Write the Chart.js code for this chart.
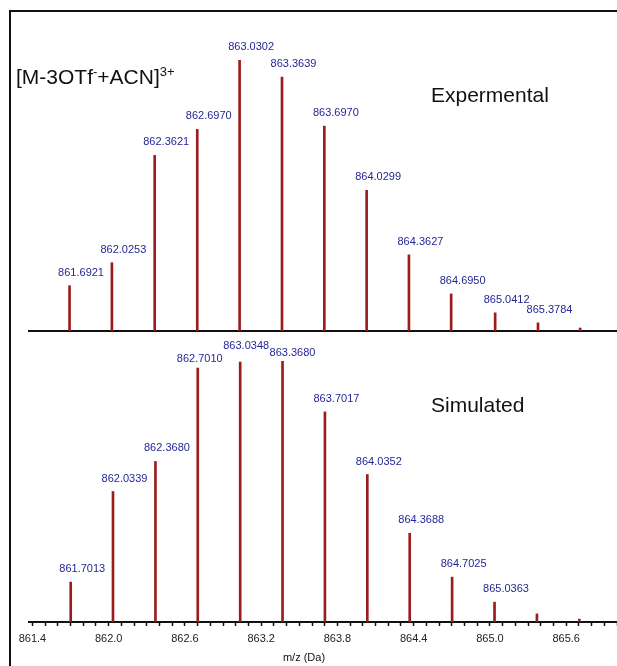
<!DOCTYPE html>
<html>
<head>
<meta charset="utf-8">
<script src="https://cdn.jsdelivr.net/npm/chart.js@4.4.0/dist/chart.umd.min.js"></script>
<style>
    html, body { margin: 0; padding: 0; background: #fff; }
    #wrap { position: relative; width: 617px; height: 666px; overflow: hidden; font-family: Arial, "Liberation Sans", sans-serif; }
    #frame { position: absolute; left: 9px; top: 10px; width: 700px; height: 700px; border-top: 2px solid #111; border-left: 2px solid #111; }
    #expCanvas { position: absolute; left: 0; top: 0; }
    #simCanvas { position: absolute; left: 0; top: 340px; }
    .note { position: absolute; color: #111; font-size: 21px; line-height: 21px; white-space: nowrap; }
    .note sup { font-size: 13px; vertical-align: 0; position: relative; top: -8px; }
    #xTitle { position: absolute; left: 264px; top: 652px; width: 80px; text-align: center; font-size: 11px; line-height: 11px; color: #111; }
</style>
</head>
<body>
<div id="wrap">
    <div id="frame"></div>
    <canvas id="expCanvas" width="617" height="345"></canvas>
    <!-- a bit wider than the page: the axis keeps tick padding on its right -->
    <canvas id="simCanvas" width="623" height="326"></canvas>
    <!-- panel annotations -->
    <div class="note" style="left:16px; top:66px;">[M-3OTf<sup>-</sup>+ACN]<sup>3+</sup></div>
    <div class="note" style="left:431px; top:84px;">Expermental</div>
    <div class="note" style="left:431px; top:394px;">Simulated</div>
    <div id="xTitle">m/z (Da)</div>
</div>
<script>
// experimental isotope pattern (m/z, relative intensity %)
const expMz = [861.6921, 862.0253, 862.3621, 862.6970, 863.0302, 863.3639, 863.6970, 864.0299, 864.3627, 864.6950, 865.0412, 865.3784, 865.7100];
const expInt = [16.7, 25.2, 64.8, 74.4, 100, 93.7, 75.6, 51.9, 28.1, 13.7, 6.7, 3.0, 1.1];
const expLabels = ['861.6921', '862.0253', '862.3621', '862.6970', '863.0302', '863.3639', '863.6970', '864.0299', '864.3627', '864.6950', '865.0412', '865.3784', ''];

// simulated isotope pattern
const simMz = [861.7013, 862.0339, 862.3680, 862.7010, 863.0348, 863.3680, 863.7017, 864.0352, 864.3688, 864.7025, 865.0363, 865.3700, 865.7040];
const simInt = [15.3, 50.0, 61.5, 97.3, 99.6, 100, 80.5, 56.5, 34.0, 17.2, 7.6, 3.1, 1.1];
const simLabels = ['861.7013', '862.0339', '862.3680', '862.7010', '863.0348', '863.3680', '863.7017', '864.0352', '864.3688', '864.7025', '865.0363', '', ''];

// x axis
const tickLabels = ['861.4', '862.0', '862.6', '863.2', '863.8', '864.4', '865.0', '865.6'];
const xMin = 861.373;
const xMax = 866.0;

const BAR_RED = '#9b1c1c';
const LABEL_BLUE = '#262696';

// draws the m/z value above each peak
const peakLabels = {
    id: 'peakLabels',
    afterDatasetsDraw(chart, args, opts) {
        const ctx = chart.ctx;
        const meta = chart.getDatasetMeta(0);
        const texts = opts.texts || [];
        const nudge = opts.nudge || {};
        ctx.save();
        ctx.font = '11px Arial, "Liberation Sans", sans-serif';
        ctx.fillStyle = LABEL_BLUE;
        ctx.textAlign = 'center';
        ctx.textBaseline = 'alphabetic';
        meta.data.forEach((bar, i) => {
            const txt = texts[i];
            if (!txt) return;
            const n = nudge[txt] || [0, 0];
            ctx.fillText(txt, bar.x + 11.5 + n[0], bar.y - 10 + n[1]);
        });
        ctx.restore();
    }
};

function toPoints(xs, ys) {
    return xs.map((x, i) => ({ x: x, y: ys[i] }));
}

function makeChart(id, xs, ys, texts, opts) {
    const ctx = document.getElementById(id).getContext('2d');
    return new Chart(ctx, {
        type: 'bar',
        data: {
            datasets: [{
                data: toPoints(xs, ys),
                backgroundColor: BAR_RED,
                borderWidth: 0,
                barThickness: 2
            }]
        },
        options: {
            responsive: false,
            animation: false,
            events: [],
            layout: { padding: opts.padding },
            scales: {
                x: {
                    type: 'linear',
                    min: xMin,
                    max: xMax,
                    offset: false,
                    border: { display: true, color: '#111', width: 2 },
                    grid: {
                        display: opts.showTicks,
                        drawOnChartArea: false,
                        drawTicks: opts.showTicks,
                        tickLength: 4,
                        tickWidth: 1.5,
                        tickColor: '#111',
                        offset: false
                    },
                    ticks: {
                        display: opts.showTicks,
                        stepSize: 0.1,
                        includeBounds: false,
                        autoSkip: false,
                        maxRotation: 0,
                        minRotation: 0,
                        padding: 6,
                        color: '#222',
                        font: { family: 'Arial, "Liberation Sans", sans-serif', size: 11 },
                        callback: (v) => {
                            const s = Number(v).toFixed(1);
                            return tickLabels.includes(s) ? s : '';
                        }
                    }
                },
                y: { display: false, min: 0, max: 100 }
            },
            plugins: {
                legend: { display: false },
                tooltip: { enabled: false },
                peakLabels: { texts: texts, nudge: opts.nudge }
            }
        },
        plugins: [peakLabels]
    });
}

makeChart('expCanvas', expMz, expInt, expLabels, {
    padding: { left: 29, right: 0, top: 60, bottom: 14 },
    showTicks: false,
    nudge: {}
});

// axis title is the html div above, so the bottom padding takes its place
makeChart('simCanvas', simMz, simInt, simLabels, {
    padding: { left: 29, right: 0, top: 21, bottom: 14.8 },
    showTicks: true,
    nudge: { '862.7010': [-9.5, 4], '863.0348': [-5.5, -3], '863.3680': [-1.5, 5] }
});
</script>
</body>
</html>
